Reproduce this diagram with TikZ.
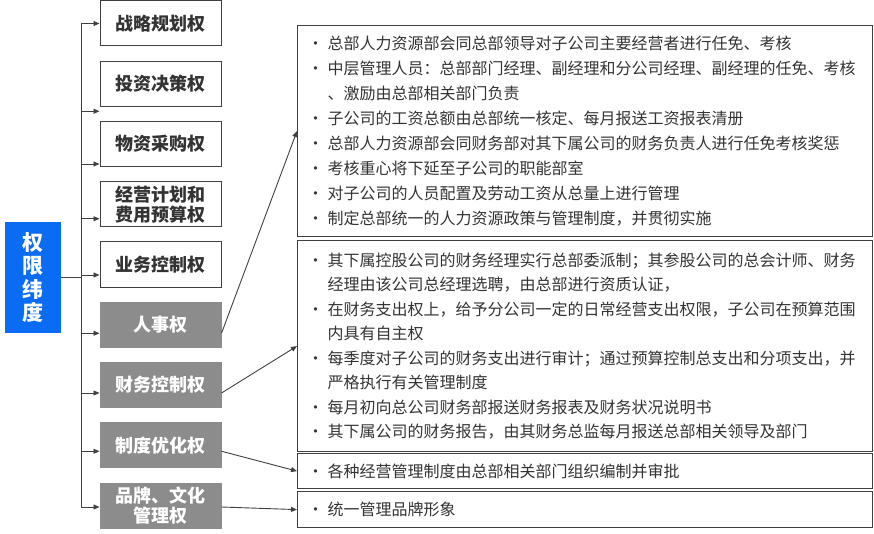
\documentclass[tikz,border=0pt]{standalone}
\usepackage{fontspec}
\setmainfont{Noto Sans CJK SC}
\usetikzlibrary{positioning,arrows.meta}
\definecolor{dimblue}{HTML}{0A6CF2}
\definecolor{boxgray}{HTML}{8C8C8C}
\definecolor{linegray}{HTML}{404040}
\definecolor{textgray}{HTML}{333333}
\newcommand{\bul}{\makebox[21pt][l]{\hspace{1pt}•}}
\newcommand{\cont}{\hspace*{21pt}}
\tikzset{
  power/.style={draw=linegray, line width=1pt, minimum width=121pt, minimum height=45pt,
    inner sep=0pt, align=center, text=textgray, font=\bfseries\fontsize{18pt}{20pt}\selectfont},
  darkpower/.style={power, fill=boxgray, draw=boxgray, text=white},
  detail/.style={draw=linegray, line width=1.2pt, minimum width=575pt, text width=557pt,
    inner xsep=9pt, inner ysep=0pt, align=left, text=textgray, anchor=north west,
    font=\fontsize{16pt}{25pt}\selectfont},
  link/.style={draw=linegray, line width=0.9pt, -{Triangle[length=6pt,width=5pt]}},
}
\begin{document}
\begin{tikzpicture}[x=1pt,y=1pt]
    \useasboundingbox (0,0) rectangle (874,-534);
    % Root
    \node[fill=dimblue, text=white, minimum width=56pt, minimum height=111pt, inner sep=0pt,
      align=center, font=\bfseries\fontsize{21pt}{23.5pt}\selectfont] (root) at (33,-277.5) {权\\限\\纬\\度};
    \coordinate (trunk) at (81,0);
    % Powers
    \node[power] (p1) at (160.5,-23.5) {战略规划权};
    \node[power, below=14.25pt of p1] (p2) {投资决策权};
    \node[power, below=14.25pt of p2] (p3) {物资采购权};
    \node[power, below=14.25pt of p3] (p4) {经营计划和\\费用预算权};
    \node[power, below=14.25pt of p4] (p5) {业务控制权};
    \node[darkpower, below=14.25pt of p5] (p6) {人事权};
    \node[darkpower, below=14.25pt of p6] (p7) {财务控制权};
    \node[darkpower, below=14.25pt of p7] (p8) {制度优化权};
    \node[darkpower, below=14.25pt of p8] (p9) {品牌、文化\\管理权};
    % Tree
    \foreach \b/\s in {p1/0,p2/-27.5,p3/-20,p4/-14.5,p5/-10.5,p6/-8.5,p7/-8,p8/-6,p9/-1.5}
      \coordinate (t\b) at ([yshift=\s pt]\b.west);
    \draw[linegray, line width=1pt] (trunk |- tp1) -- (trunk |- tp9);
    \draw[linegray, line width=1.5pt] (root.east) -- (trunk |- root.east);
    \foreach \b in {p1,p2,p3,p4,p5,p6,p7,p8,p9}
      \draw[link] (trunk |- t\b) -- (t\b);
    % Details
    \node[detail, minimum height=211pt] (hr) at (297,-25) {%
      \bul 总部人力资源部会同总部领导对子公司主要经营者进行任免、考核\\
      \bul 中层管理人员：总部部门经理、副经理和分公司经理、副经理的任免、考核\\
      \cont 、激励由总部相关部门负责\\
      \bul 子公司的工资总额由总部统一核定、每月报送工资报表清册\\
      \bul 总部人力资源部会同财务部对其下属公司的财务负责人进行任免考核奖惩\\
      \bul 考核重心将下延至子公司的职能部室\\
      \bul 对子公司的人员配置及劳动工资从总量上进行管理\\
      \bul 制定总部统一的人力资源政策与管理制度，并贯彻实施};
    \node[detail, minimum height=211pt, font=\fontsize{16pt}{24.5pt}\selectfont] (fin) at (297,-240) {%
      \bul 其下属控股公司的财务经理实行总部委派制；其参股公司的总会计师、财务\\
      \cont 经理由该公司总经理选聘，由总部进行资质认证，\\
      \bul 在财务支出权上，给予分公司一定的日常经营支出权限，子公司在预算范围\\
      \cont 内具有自主权\\
      \bul 每季度对子公司的财务支出进行审计；通过预算控制总支出和分项支出，并\\
      \cont 严格执行有关管理制度\\
      \bul 每月初向总公司财务部报送财务报表及财务状况说明书\\
      \bul 其下属公司的财务报告，由其财务总监每月报送总部相关领导及部门};
    \node[detail, minimum height=35pt] (rule) at (297,-453) {\bul 各种经营管理制度由总部相关部门组织编制并审批};
    \node[detail, minimum height=36pt] (brand) at (297,-491) {\bul 统一管理品牌形象};
    % Links
    \draw[link] (tp6 -| p6.east) -- (hr.west);
    \draw[link] (tp7 -| p7.east) -- (fin.west);
    \draw[link] (tp8 -| p8.east) -- (rule.west);
    \draw[link] (tp9 -| p9.east) -- (brand.west);
\end{tikzpicture}
\end{document}
